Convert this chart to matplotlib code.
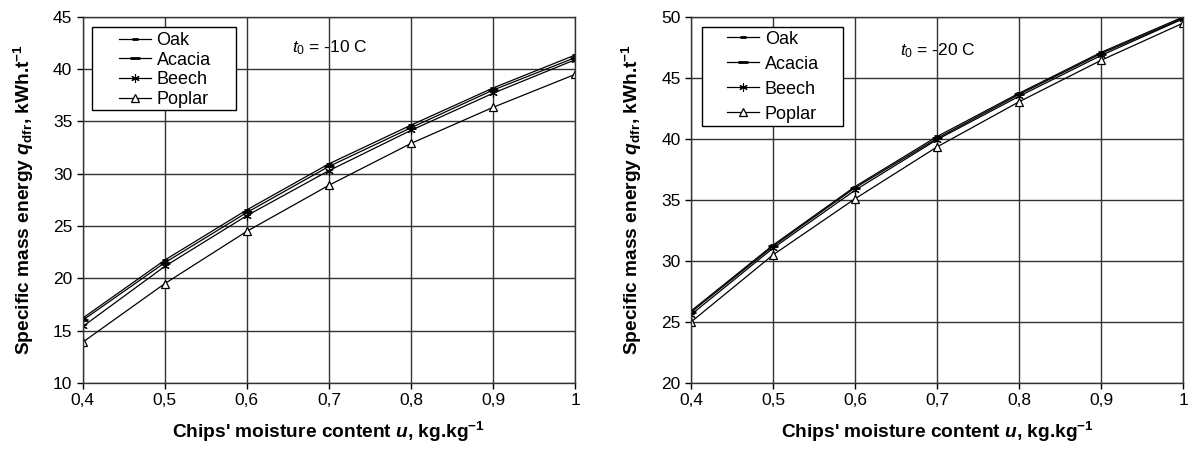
import matplotlib
matplotlib.use('Agg')
import matplotlib.pyplot as plt
from matplotlib.patches import Rectangle

plt.rcParams['font.family'] = ['Liberation Sans', 'DejaVu Sans']
plt.rcParams['mathtext.fontset'] = 'custom'
plt.rcParams['mathtext.rm'] = 'Liberation Sans'
plt.rcParams['mathtext.it'] = 'Liberation Sans:italic'
plt.rcParams['mathtext.bf'] = 'Liberation Sans:bold'
plt.rcParams['mathtext.bfit'] = 'Liberation Sans:bold:italic'

# moisture content, kg/kg
moisture = [0.4, 0.5, 0.6, 0.7, 0.8, 0.9, 1.0]
x_ticklabels = ['0,4', '0,5', '0,6', '0,7', '0,8', '0,9', '1']
species = ['Oak', 'Acacia', 'Beech', 'Poplar']

# t0 = -10 C
oak_10 = [16.2, 21.75, 26.55, 30.95, 34.65, 38.2, 41.35]
acacia_10 = [16.0, 21.5, 26.3, 30.7, 34.4, 38.0, 41.1]
beech_10 = [15.4, 21.15, 26.0, 30.3, 34.15, 37.7, 40.9]
poplar_10 = [13.9, 19.5, 24.5, 28.9, 32.9, 36.35, 39.5]

# t0 = -20 C
oak_20 = [25.9, 31.3, 36.1, 40.2, 43.75, 47.1, 50.0]
acacia_20 = [25.8, 31.2, 36.0, 40.05, 43.65, 47.0, 49.9]
beech_20 = [25.6, 31.05, 35.8, 39.95, 43.5, 46.85, 49.85]
poplar_20 = [25.0, 30.5, 35.1, 39.35, 43.05, 46.45, 49.5]

styles = [
    dict(marker='_', markersize=5, markeredgewidth=2.0),
    dict(marker='_', markersize=7, markeredgewidth=2.0),
    dict(marker=(6, 2, 0), markersize=6, markeredgewidth=0.8),
    dict(marker='^', markersize=6, markerfacecolor='white', markeredgewidth=0.9),
]

fig = plt.figure(figsize=(11.89, 4.57), dpi=100)
ax1 = fig.add_axes([0.0696, 0.162, 0.414, 0.801])
ax2 = fig.add_axes([0.5812, 0.162, 0.414, 0.801])

# axes, series, y range, label, label y, legend row spacing, legend frame (x, y, w, h)
panels = [
    (ax1, [oak_10, acacia_10, beech_10, poplar_10], (10, 45), '-10 C', 42.1, 0.15,
     (0.0183, 0.746, 0.2931, 0.2275), 0.959),
    (ax2, [oak_20, acacia_20, beech_20, poplar_20], (20, 50), '-20 C', 47.2, 0.44,
     (0.0224, 0.7014, 0.2856, 0.2721), 0.962),
]

for ax, series, ylim, t_label, t_y, leg_space, frame, leg_top in panels:
    for name, vals, st in zip(species, series, styles):
        ax.plot(moisture, vals, color='black', linewidth=0.9,
                markeredgecolor='black', label=name, **st)
    ax.set_xlim(0.4, 1.0)
    ax.set_ylim(*ylim)
    ax.set_xticks(moisture)
    ax.set_xticklabels(x_ticklabels)
    ax.set_yticks(range(ylim[0], ylim[1] + 1, 5))
    ax.grid(True, color='#333333', linewidth=1.0)
    ax.set_axisbelow(True)
    ax.tick_params(direction='out', length=4, width=1, labelsize=12.5, color='black')
    for sp in ax.spines.values():
        sp.set_color('#333333')
        sp.set_linewidth(1.0)
    ax.set_xlabel(r"Chips' moisture content $\mathbfit{u}$, kg.kg$^{\mathbf{-1}}$",
                  fontsize=13.8, fontweight='bold', labelpad=8)
    ax.set_ylabel(r"Specific mass energy $\mathbfit{q}_{\mathbf{dfr}}$, kWh.t$^{\mathbf{-1}}$",
                  fontsize=13.8, fontweight='bold')
    ax.yaxis.set_label_coords(-0.095, 0.5)
    ax.text(0.655, t_y, r'$t_0$ = ' + t_label, fontsize=12.5, va='center', ha='left')

    ax.add_patch(Rectangle(frame[:2], frame[2], frame[3], transform=ax.transAxes,
                           facecolor='white', edgecolor='black', linewidth=1.0, zorder=4))
    leg = ax.legend(loc='upper left', bbox_to_anchor=(0.0737, leg_top), fontsize=13,
                    frameon=False, handlelength=1.78, handletextpad=0.3,
                    labelspacing=leg_space, borderpad=0, borderaxespad=0)
    leg.set_zorder(5)

fig.savefig('out.png', dpi=100)
